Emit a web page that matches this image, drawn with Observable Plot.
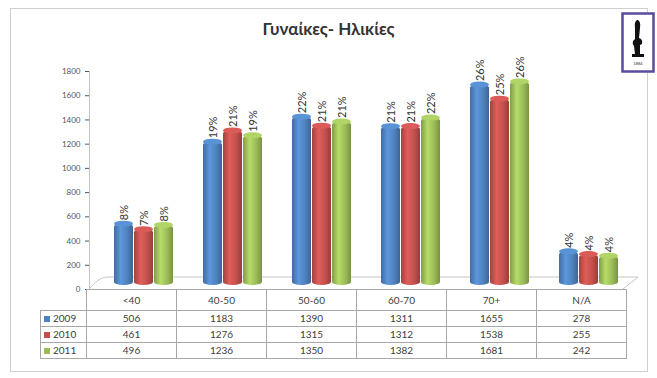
<!DOCTYPE html>
<html>
<head>
<meta charset="utf-8">
<script src="https://cdn.jsdelivr.net/npm/d3@7"></script>
<script src="https://cdn.jsdelivr.net/npm/@observablehq/plot@0.6"></script>
<style>
  body { margin: 0; background: #fff; }
  #chart { position: relative; width: 657px; height: 378px; overflow: hidden; font-family: Lato, "Open Sans", sans-serif; background: #fff; }
  #border { position: absolute; left: 10px; top: 8px; width: 638px; height: 364px; border: 1px solid #cfcfcf; box-sizing: border-box; }
  #title { position: absolute; left: 0; top: 18px; width: 657px; text-align: center; font-weight: bold; font-size: 17px; color: #333; }
  #plot { position: absolute; left: 0; top: 0; }
  #logo { position: absolute; left: 621px; top: 12px; }
  #tbl { position: absolute; left: 40px; top: 289px; border-collapse: collapse; table-layout: fixed; font-size: 10px; color: #404040; }
  #tbl td { border: 1px solid #a8a8a8; text-align: center; padding: 0; height: 15px; line-height: 15px; white-space: nowrap; }
  #tbl tr.head td { height: 20px; }
  #tbl td.key { text-align: left; padding-left: 3px; }
  #tbl td.blank { border-top: none; border-left: none; }
  .swatch { display: inline-block; width: 6px; height: 6px; margin-right: 3px; vertical-align: 0px; }
</style>
</head>
<body>
<div id="chart">
  <div id="border"></div>
  <div id="plot"></div>
  <div id="title">Γυναίκες- Ηλικίες</div>
  <svg id="logo" width="34" height="62" viewBox="0 0 34 62">
    <rect x="1.5" y="1.5" width="31" height="58" fill="#fff" stroke="#5a4b9c" stroke-width="2.5"/>
    <path d="M17 8 q3 2 2 8 l-1 10 q4 1 3 6 l-2 1 v9 h4 v3 h-12 v-3 h3 l-1 -8 q-2 -2 -1 -5 l2 -2 l0 -11 q-1 -6 2 -8 z" fill="#111"/>
    <text x="17" y="53" text-anchor="middle" font-size="4" font-family="sans-serif" fill="#222">1884</text>
  </svg>
</div>
<script>
// Women by age group, three years
const categories = ["<40", "40-50", "50-60", "60-70", "70+", "N/A"];
const years = ["2009", "2010", "2011"];
const values2009 = [506, 1183, 1390, 1311, 1655, 278];
const values2010 = [461, 1276, 1315, 1312, 1538, 255];
const values2011 = [496, 1236, 1350, 1382, 1681, 242];
const yTicks = [0, 200, 400, 600, 800, 1000, 1200, 1400, 1600, 1800];
const seriesColors = ["#4F81BD", "#C0504D", "#9BBB59"];

const seriesValues = [values2009, values2010, values2011];
const pct = d3.format(".0%");
const rows = [];
years.forEach((year, s) => {
  const total = d3.sum(seriesValues[s]);
  categories.forEach((cat, i) => {
    rows.push({year, cat, value: seriesValues[s][i], share: pct(seriesValues[s][i] / total)});
  });
});

// lighter ellipse on top of each cylinder
const caps = years.map((year, s) =>
  Plot.barY(rows.filter(d => d.year === year), {
    fx: "cat", x: "year", y1: "value", y2: "value", insetTop: -3, insetBottom: -3,
    fill: d3.color(seriesColors[s]).brighter(0.35).formatHex(), dx: 10, dy: -4, rx: 9, ry: 3
  })
);

const plot = Plot.plot({
  width: 657,
  height: 378,
  marginLeft: 86,
  marginRight: 32,
  marginTop: 71,
  marginBottom: 89,
  style: {background: "transparent", fontFamily: "Lato, 'Open Sans', sans-serif"},
  fx: {domain: categories, padding: 0, axis: null},
  x: {domain: years, paddingInner: 0.04, paddingOuter: 0.72, axis: null},
  y: {domain: [0, 1800], axis: null},
  color: {domain: years, range: years.map(y => `url(#cyl-${y})`)},
  marks: [
    Plot.axisY(yTicks, {anchor: "left", tickSize: 4, tickPadding: 5, fontSize: 8, color: "#555", label: null, tickFormat: d3.format("d")}),
    Plot.barY(rows, {fx: "cat", x: "year", y: "value", fill: "year", dx: 10, dy: -4, rx: 9, ry: 3}),
    ...caps,
    Plot.text(rows, {fx: "cat", x: "year", y: "value", text: "share", rotate: -90, textAnchor: "start",
      dx: 10, dy: -8, fontSize: 11, fill: "#333"})
  ]
});
document.getElementById("plot").appendChild(plot);

// cylinder shading for each series
const svg = d3.select(plot);
const defs = svg.insert("defs", ":first-child");
years.forEach((year, s) => {
  const base = d3.color(seriesColors[s]);
  const g = defs.append("linearGradient").attr("id", `cyl-${year}`).attr("x1", 0).attr("x2", 1).attr("y1", 0).attr("y2", 0);
  [[0, base.darker(0.5)], [0.35, base.brighter(0.45)], [0.7, base], [1, base.darker(0.7)]]
    .forEach(([o, c]) => g.append("stop").attr("offset", o).attr("stop-color", c.formatHex()));
});

// value axis line and the floor under the bars
const y = plot.scale("y");
const fx = plot.scale("fx");
const left = fx.apply(categories[0]);
const right = fx.apply(categories[categories.length - 1]) + fx.bandwidth;
const y0 = y.apply(0);
const chrome = svg.insert("g", "g").attr("fill", "none").attr("stroke", "#c4c4c4");
chrome.append("line").attr("x1", left + 0.5).attr("x2", left + 0.5).attr("y1", y0).attr("y2", y.apply(1800));
chrome.append("path").attr("d", `M${left},${y0} C${left + 6},${y0 - 6} ${left + 10},${y0 - 12} ${left + 20},${y0 - 12} L${right + 15},${y0 - 12} L${right},${y0}`);

// data table under the chart
const table = d3.select("#chart").append("table").attr("id", "tbl");
const colgroup = table.append("colgroup");
colgroup.append("col").style("width", "46px");
categories.forEach(() => colgroup.append("col").style("width", "90px"));
const head = table.append("tr").attr("class", "head");
head.append("td").attr("class", "blank");
categories.forEach(c => head.append("td").text(c));
years.forEach((year, s) => {
  const tr = table.append("tr");
  const key = tr.append("td").attr("class", "key");
  key.append("span").attr("class", "swatch").style("background", seriesColors[s]);
  key.append("span").text(year);
  seriesValues[s].forEach(v => tr.append("td").text(v));
});
</script>
</body>
</html>
